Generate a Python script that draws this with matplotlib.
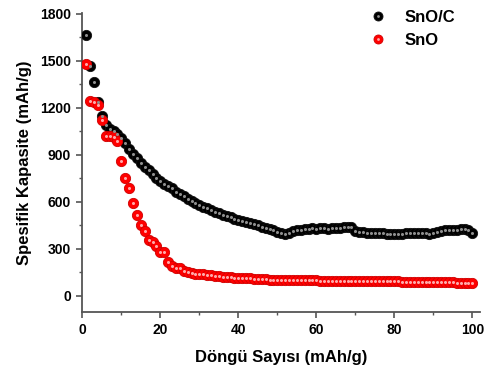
import numpy as np
import matplotlib
matplotlib.use('Agg')
import matplotlib.pyplot as plt
from matplotlib.lines import Line2D
from matplotlib.ticker import MultipleLocator

plt.rcParams['font.family'] = ['Liberation Sans', 'DejaVu Sans']
plt.rcParams['font.weight'] = 'bold'

cycles = np.arange(1, 101)

# SnO/C capacity (mAh/g)
sno_c = [1665, 1470, 1365, 1240, 1150, 1090, 1065, 1050, 1030, 1010,
         975, 935, 905, 880, 850, 825, 800, 780, 755, 735,
         715, 700, 685, 665, 650, 635, 620, 605, 592, 580,
         570, 560, 548, 538, 528, 518, 510, 500, 492, 485,
         478, 470, 462, 456, 450, 442, 435, 428, 420, 410,
         400, 395, 400, 415, 420, 420, 425, 425, 430, 428,
         432, 430, 428, 432, 435, 432, 438, 442, 440, 415,
         408, 405, 402, 400, 402, 398, 398, 395, 393, 392,
         395, 395, 398, 400, 398, 400, 400, 398, 396, 398,
         405, 412, 418, 420, 422, 418, 424, 428, 420, 398]

# SnO capacity (mAh/g)
sno = [1480, 1245, 1235, 1215, 1125, 1020, 1020, 1012, 990, 860,
       750, 685, 595, 515, 455, 415, 355, 342, 318, 282,
       280, 215, 190, 180, 178, 160, 155, 145, 142, 138,
       136, 133, 130, 128, 124, 120, 120, 118, 116, 115,
       113, 112, 112, 110, 108, 106, 104, 102, 100, 100,
       100, 100, 99, 99, 99, 99, 98, 98, 98, 98,
       97, 97, 97, 96, 96, 96, 95, 95, 95, 95,
       94, 94, 94, 93, 93, 93, 93, 92, 92, 92,
       92, 91, 91, 90, 90, 89, 89, 88, 88, 87,
       87, 86, 86, 85, 85, 84, 84, 83, 82, 81]

series = [
    ('SnO/C', sno_c, '#000000', '#111111', '#8f8f8f'),
    ('SnO', sno, '#ff0000', '#d00000', '#ffaaaa'),
]

fig = plt.figure(figsize=(4.87, 3.71), dpi=100)
ax = fig.add_axes([0.169, 0.158, 0.817, 0.808])

handles = []
for name, vals, fc, ec, hl in series:
    ax.plot(cycles, vals, 'o', ms=7.4, mfc=fc, mec=ec, mew=0.6, ls='none', zorder=3)
    ax.plot(cycles, vals, 'o', ms=2.2, mfc=hl, mec='none', ls='none', zorder=3.1)
    h1 = Line2D([], [], marker='o', ms=6.5, mfc=fc, mec=ec, mew=0.6, ls='none')
    h2 = Line2D([], [], marker='o', ms=2.0, mfc=hl, mec='none', ls='none')
    handles.append((h1, h2))

ax.legend(handles, [s[0] for s in series], loc='upper right', frameon=False,
          fontsize=12, handletextpad=0.8, borderaxespad=0.0,
          bbox_to_anchor=(0.955, 1.03), labelspacing=0.45, handlelength=1.6)

ax.set_xlim(0, 102)
ax.set_ylim(-106, 1808)
ax.xaxis.set_major_locator(MultipleLocator(20))
ax.xaxis.set_minor_locator(MultipleLocator(10))
ax.yaxis.set_major_locator(MultipleLocator(300))
ax.yaxis.set_minor_locator(MultipleLocator(150))

for s in ['top', 'right']:
    ax.spines[s].set_visible(False)
for s in ['left', 'bottom']:
    ax.spines[s].set_color('#555555')
    ax.spines[s].set_linewidth(1.3)

ax.tick_params(which='major', direction='out', length=4, width=1.2,
               color='#555555', labelsize=10, pad=4)
ax.tick_params(which='minor', direction='out', length=2.5, width=1.0,
               color='#555555')
for lbl in ax.get_xticklabels() + ax.get_yticklabels():
    lbl.set_fontweight('bold')

ax.set_xlabel('Döngü Sayısı (mAh/g)', fontsize=12, fontweight='bold', labelpad=9)
ax.set_ylabel('Spesifik Kapasite (mAh/g)', fontsize=12, fontweight='bold', labelpad=6)

fig.savefig('out.png', dpi=100)
